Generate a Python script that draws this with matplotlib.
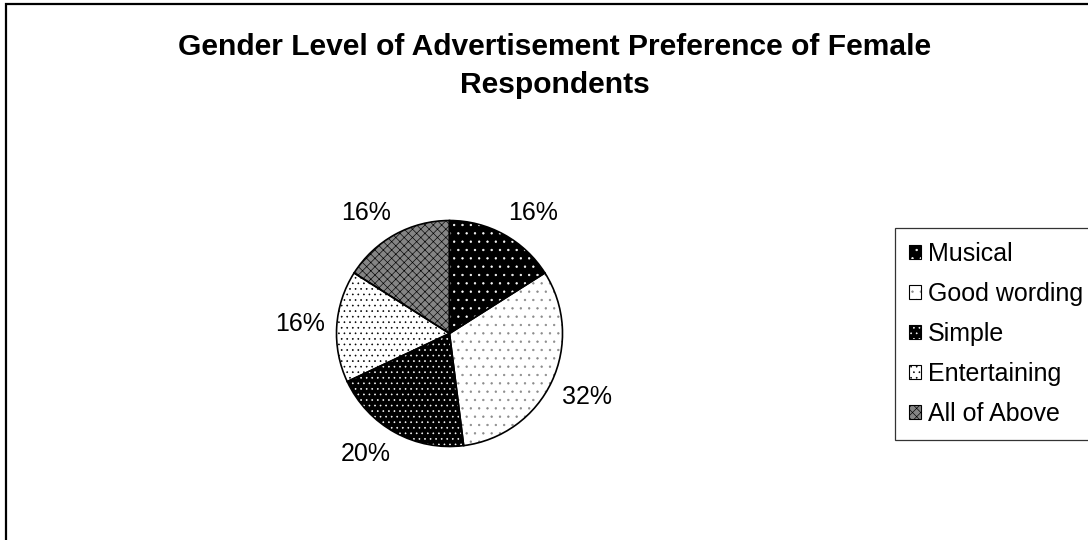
import numpy as np
import matplotlib
matplotlib.use("Agg")
import matplotlib.pyplot as plt
from matplotlib.patches import Rectangle
from matplotlib.legend_handler import HandlerTuple

plt.rcParams["font.family"] = ["Liberation Sans", "DejaVu Sans"]
plt.rcParams["hatch.linewidth"] = 0.45

# Data
title_lines = ["Gender Level of Advertisement Preference of Female", "Respondents"]
categories = ["Musical", "Good wording", "Simple", "Entertaining", "All of Above"]
shares = [16, 32, 20, 16, 16]

# Fill styles: face colour, dot/hatch colour, hatch pattern
face_colors = ["#000000", "#ffffff", "#000000", "#ffffff", "#858585"]
hatch_colors = ["#ffffff", "#8a8a8a", "#ffffff", "#000000", "#000000"]
hatches = ["..", "..", "...", "...", "xxxx"]

W, H, DPI = 1088, 540, 100
fig = plt.figure(figsize=(W / DPI, H / DPI), dpi=DPI)
fig.patch.set_facecolor("white")

# Pie axes placed in pixel terms: centre (449.5, 333.5), radius 113 px
cx_px, cy_px, r_px = 449.5, 333.5, 113.0
span = 1.5
ax_w, ax_h = 2 * span * r_px, 2 * span * r_px
ax = fig.add_axes([(cx_px - ax_w / 2) / W, (H - cy_px - ax_h / 2) / H, ax_w / W, ax_h / H])

# Patterned fills (hatch colour comes from the edge colour)
wedges, _, autotexts = ax.pie(
    shares, startangle=90, counterclock=False, radius=1.0,
    autopct=lambda p: f"{p:.0f}%", pctdistance=1.3,
    wedgeprops=dict(linewidth=0),
    textprops=dict(fontsize=18, color="black"),
)
for w, fc, hc, ht in zip(wedges, face_colors, hatch_colors, hatches):
    w.set_facecolor(fc)
    w.set_edgecolor(hc)
    w.set_hatch(ht)

# Black outlines on top
outlines, _ = ax.pie(
    shares, startangle=90, counterclock=False, radius=1.0,
    wedgeprops=dict(fill=False, edgecolor="black", linewidth=1.2),
)
ax.set_xlim(-span, span)
ax.set_ylim(-span, span)
ax.set_aspect("equal")
ax.axis("off")

# Place percentage labels just outside the rim, nudged away from the pie
renderer = fig.canvas.get_renderer()
for t, w in zip(autotexts, wedges):
    theta = np.deg2rad((w.theta1 + w.theta2) / 2)
    c, s = np.cos(theta), np.sin(theta)
    bb = t.get_window_extent(renderer)
    ax_pt = ax.transData.transform((1.1 * c, 1.1 * s))
    sx, sy = np.clip(2 * c, -1, 1), np.clip(2 * s, -1, 1)
    px = ax_pt[0] + sx * bb.width / 2
    py = ax_pt[1] + sy * bb.height / 2
    t.set_position(ax.transData.inverted().transform((px, py)))
    t.set_ha("center")
    t.set_va("center")

# Title
fig.text(555 / W, 1 - 55 / H, title_lines[0], ha="center", va="baseline",
         fontsize=21.6, fontweight="bold")
fig.text(555 / W, 1 - 93 / H, title_lines[1], ha="center", va="baseline",
         fontsize=21.6, fontweight="bold")

# Legend with patterned, outlined swatches
handles = []
for fc, hc, ht in zip(face_colors, hatch_colors, hatches):
    fill = Rectangle((0, 0), 1, 1, facecolor=fc, edgecolor=hc, hatch=ht, linewidth=0)
    edge = Rectangle((0, 0), 1, 1, fill=False, edgecolor="black", linewidth=0.8)
    handles.append((fill, edge))
leg = fig.legend(
    handles, categories, handler_map={tuple: HandlerTuple(ndivide=1, pad=0)},
    loc="upper left", bbox_to_anchor=(895 / W, 1 - 228 / H),
    fontsize=18, frameon=True, fancybox=False, shadow=False,
    borderpad=0.55, labelspacing=0.64, handlelength=0.48, handleheight=0.48,
    handletextpad=0.3, borderaxespad=0,
)
leg.get_frame().set_edgecolor("black")
leg.get_frame().set_linewidth(0.9)

# Outer chart border
fig.add_artist(Rectangle((6 / W, -0.05), 1.2, 1 - 4 / H + 0.05,
                         transform=fig.transFigure, fill=False,
                         edgecolor="black", linewidth=1.6))

fig.savefig("out.png", dpi=DPI)
